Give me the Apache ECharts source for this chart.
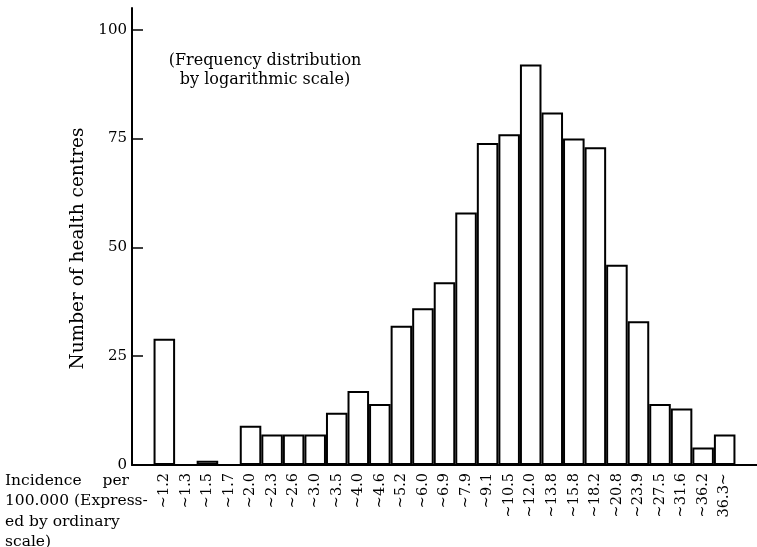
<!DOCTYPE html>
<html>
<head>
<meta charset="utf-8">
<script src="https://cdn.jsdelivr.net/npm/echarts@6/dist/echarts.min.js"></script>
<style>html,body{margin:0;padding:0;background:#fff}#c{width:757px;height:547px}</style>
</head>
<body>
<div id="c"></div>
<script>
const categories = ["", "~1.2", "~1.3", "~1.5", "~1.7", "~2.0", "~2.3", "~2.6", "~3.0", "~3.5", "~4.0", "~4.6", "~5.2", "~6.0", "~6.9", "~7.9", "~9.1", "~10.5", "~12.0", "~13.8", "~15.8", "~18.2", "~20.8", "~23.9", "~27.5", "~31.6", "~36.2", "36.3~", ""];
const counts = [null, 29, 0, 1, 0, 9, 7, 7, 7, 12, 17, 14, 32, 36, 42, 58, 74, 76, 92, 81, 75, 73, 46, 33, 14, 13, 4, 7, null];
const yTicks = [0, 25, 50, 75, 100];
const yTickMarks = [25, 50, 75, 100];

const F = "DejaVu Serif";
const chart = echarts.init(document.getElementById('c'), null, {renderer: 'canvas'});
chart.setOption({
  animation: false,
  backgroundColor: '#fff',
  grid: {left: 132, right: -14, top: 8, bottom: 82, containLabel: false},
  xAxis: {
    type: 'category',
    data: categories,
    axisLine: {lineStyle: {color: '#000', width: 2}},
    axisTick: {show: false},
    axisLabel: {rotate: 90, margin: 8, color: '#000', fontFamily: F, fontSize: 14.5, interval: 0}
  },
  yAxis: {
    type: 'value',
    min: 0, max: 105, interval: 25,
    name: 'Number of health centres',
    nameLocation: 'middle',
    nameGap: 39,
    nameTextStyle: {fontFamily: F, fontSize: 18.5, color: '#000', padding: [0, 24, 0, 0]},
    axisLine: {show: true, lineStyle: {color: '#000', width: 2}},
    axisTick: {show: true, inside: true, length: 11, lineStyle: {color: '#000', width: 1.5}, customValues: yTickMarks},
    axisLabel: {color: '#000', fontFamily: F, fontSize: 15, margin: 5, customValues: yTicks},
    splitLine: {show: false}
  },
  series: [{
    type: 'bar',
    data: counts,
    barCategoryGap: 0,
    itemStyle: {color: '#fff', borderColor: '#000', borderWidth: 2}
  }],
  graphic: [
    {type: 'text', x: 265, y: 51, style: {text: '(Frequency distribution\nby logarithmic scale)', font: '16px "DejaVu Serif"', fill: '#000', lineHeight: 19, align: 'center'}},
    {type: 'text', x: 5, y: 470, style: {text: 'Incidence', font: '15.5px "DejaVu Serif"', fill: '#000', lineHeight: 21}},
    {type: 'text', x: 129, y: 470, style: {text: 'per', font: '15.5px "DejaVu Serif"', fill: '#000', lineHeight: 21, align: 'right'}},
    {type: 'text', x: 5, y: 491, style: {text: '100.000 (Express-\ned by ordinary\nscale)', font: '15.5px "DejaVu Serif"', fill: '#000', lineHeight: 20.5}}
  ]
});
</script>
</body>
</html>
